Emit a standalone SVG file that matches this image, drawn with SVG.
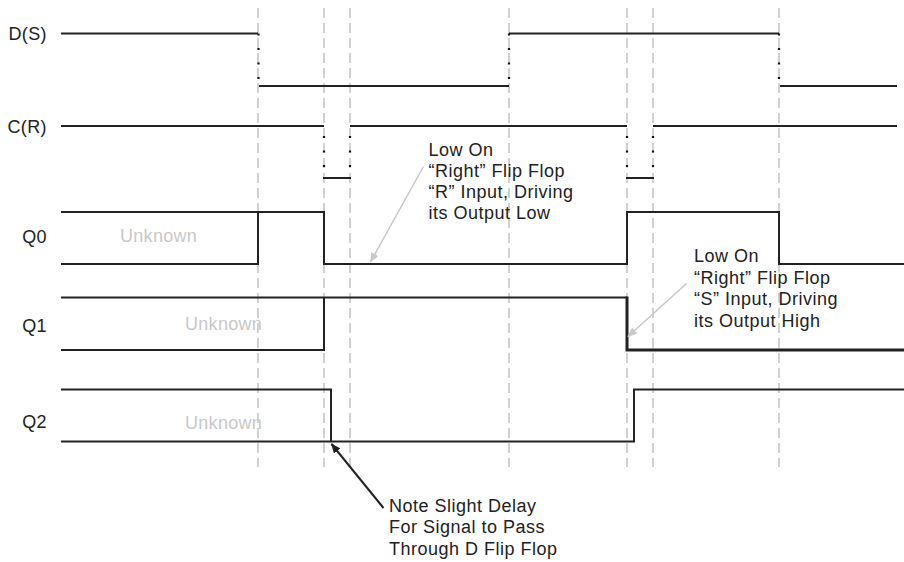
<svg xmlns="http://www.w3.org/2000/svg" width="904" height="562" viewBox="0 0 904 562">
<defs>
<style>
.grid{stroke:#d2d2d2;stroke-width:2;stroke-dasharray:10 5;fill:none}
.sig{stroke:#222;stroke-width:2;fill:none;stroke-linejoin:miter}
.thick{stroke:#222;stroke-width:3;fill:none}
.dot{stroke:#111;stroke-width:2.2;stroke-dasharray:2 12.5;fill:none}
.lbl{font-family:"Liberation Sans",Arial,sans-serif;font-size:18px;letter-spacing:0.4px;fill:#222}
.unk{font-family:"Liberation Sans",Arial,sans-serif;font-size:18px;letter-spacing:0.3px;fill:#c8c8c8}
.note{font-family:"Liberation Sans",Arial,sans-serif;font-size:18px;letter-spacing:0.5px;fill:#222}
.garrow{stroke:#c8c8c8;stroke-width:1.5;fill:none}
.barrow{stroke:#222;stroke-width:2;fill:none}
</style>
<marker id="ag" markerUnits="userSpaceOnUse" markerWidth="10" markerHeight="8" refX="9" refY="4" orient="auto">
<path d="M0,0 L10,4 L0,8 Z" fill="#c8c8c8"/>
</marker>
<marker id="ab" markerUnits="userSpaceOnUse" markerWidth="10" markerHeight="8" refX="9" refY="4" orient="auto">
<path d="M0,0 L10,4 L0,8 Z" fill="#222"/>
</marker>
</defs>
<rect width="904" height="562" fill="#fff"/>

<g id="grid">
<line class="grid" x1="258" y1="8" x2="258" y2="467"/>
<line class="grid" x1="324" y1="8" x2="324" y2="467"/>
<line class="grid" x1="350" y1="8" x2="350" y2="467"/>
<line class="grid" x1="509" y1="8" x2="509" y2="467"/>
<line class="grid" x1="627" y1="8" x2="627" y2="467"/>
<line class="grid" x1="653" y1="8" x2="653" y2="467"/>
<line class="grid" x1="779" y1="8" x2="779" y2="467"/>
</g>

<g id="sig-d">
<text class="lbl" x="47" y="40" text-anchor="end">D(S)</text>
<path class="sig" d="M61,33.5 H258"/>
<path class="sig" d="M259,86 H509"/>
<path class="sig" d="M509,33.5 H779"/>
<path class="sig" d="M780,86 H897"/>
<line class="dot" x1="258.5" y1="33.5" x2="258.5" y2="86"/>
<line class="dot" x1="509" y1="33.5" x2="509" y2="86"/>
<line class="dot" x1="779" y1="33.5" x2="779" y2="86"/>
</g>

<g id="sig-c">
<text class="lbl" x="47" y="133" text-anchor="end">C(R)</text>
<path class="sig" d="M61,126 H324"/>
<path class="sig" d="M323,178 H351"/>
<path class="sig" d="M350,126 H627"/>
<path class="sig" d="M626,178 H654"/>
<path class="sig" d="M653,126 H897"/>
<line class="dot" x1="324" y1="126" x2="324" y2="178" stroke-dashoffset="4.5"/>
<line class="dot" x1="350" y1="126" x2="350" y2="178" stroke-dashoffset="4.5"/>
<line class="dot" x1="627" y1="126" x2="627" y2="178" stroke-dashoffset="4.5"/>
<line class="dot" x1="653" y1="126" x2="653" y2="178" stroke-dashoffset="4.5"/>
</g>

<g id="sig-q0">
<text class="lbl" x="47" y="243" text-anchor="end">Q0</text>
<text class="unk" x="120" y="242">Unknown</text>
<path class="sig" d="M61,212 H324 V264 H627 V212 H779 V264 H904"/>
<path class="sig" d="M61,264 H258 V212"/>
</g>

<g id="sig-q1">
<text class="lbl" x="47" y="331.5" text-anchor="end">Q1</text>
<text class="unk" x="185" y="330">Unknown</text>
<path class="sig" d="M61,297.5 H627"/>
<path class="thick" d="M627,296.5 V350 H904"/>
<path class="sig" d="M61,350 H324 V297.5"/>
</g>

<g id="sig-q2">
<text class="lbl" x="47" y="428" text-anchor="end">Q2</text>
<text class="unk" x="185" y="428.5">Unknown</text>
<path class="sig" d="M61,389.5 H331 V441.5"/>
<path class="sig" d="M61,441.5 H634 V389.5 H904"/>
</g>

<g id="note-r">
<text class="note" x="428.5" y="155.5">Low On</text>
<text class="note" x="428.5" y="176.5">“Right” Flip Flop</text>
<text class="note" x="428.5" y="197.5">“R” Input, Driving</text>
<text class="note" x="428.5" y="218.5">its Output Low</text>
</g>

<g id="note-s">
<text class="note" x="694" y="262">Low On</text>
<text class="note" x="694" y="283.5">“Right” Flip Flop</text>
<text class="note" x="694" y="305">“S” Input, Driving</text>
<text class="note" x="694" y="326.5">its Output High</text>
</g>

<g id="note-delay">
<text class="note" x="389" y="511.5">Note Slight Delay</text>
<text class="note" x="389" y="533">For Signal to Pass</text>
<text class="note" x="389" y="554.5">Through D Flip Flop</text>
</g>

<g id="connectors">
<line class="garrow" x1="423.5" y1="166.5" x2="370.5" y2="262" marker-end="url(#ag)"/>
<line class="garrow" x1="686.5" y1="283.5" x2="628" y2="336.5" marker-end="url(#ag)"/>
<line class="barrow" x1="383.5" y1="508" x2="331.5" y2="444" marker-end="url(#ab)"/>
</g>
</svg>
